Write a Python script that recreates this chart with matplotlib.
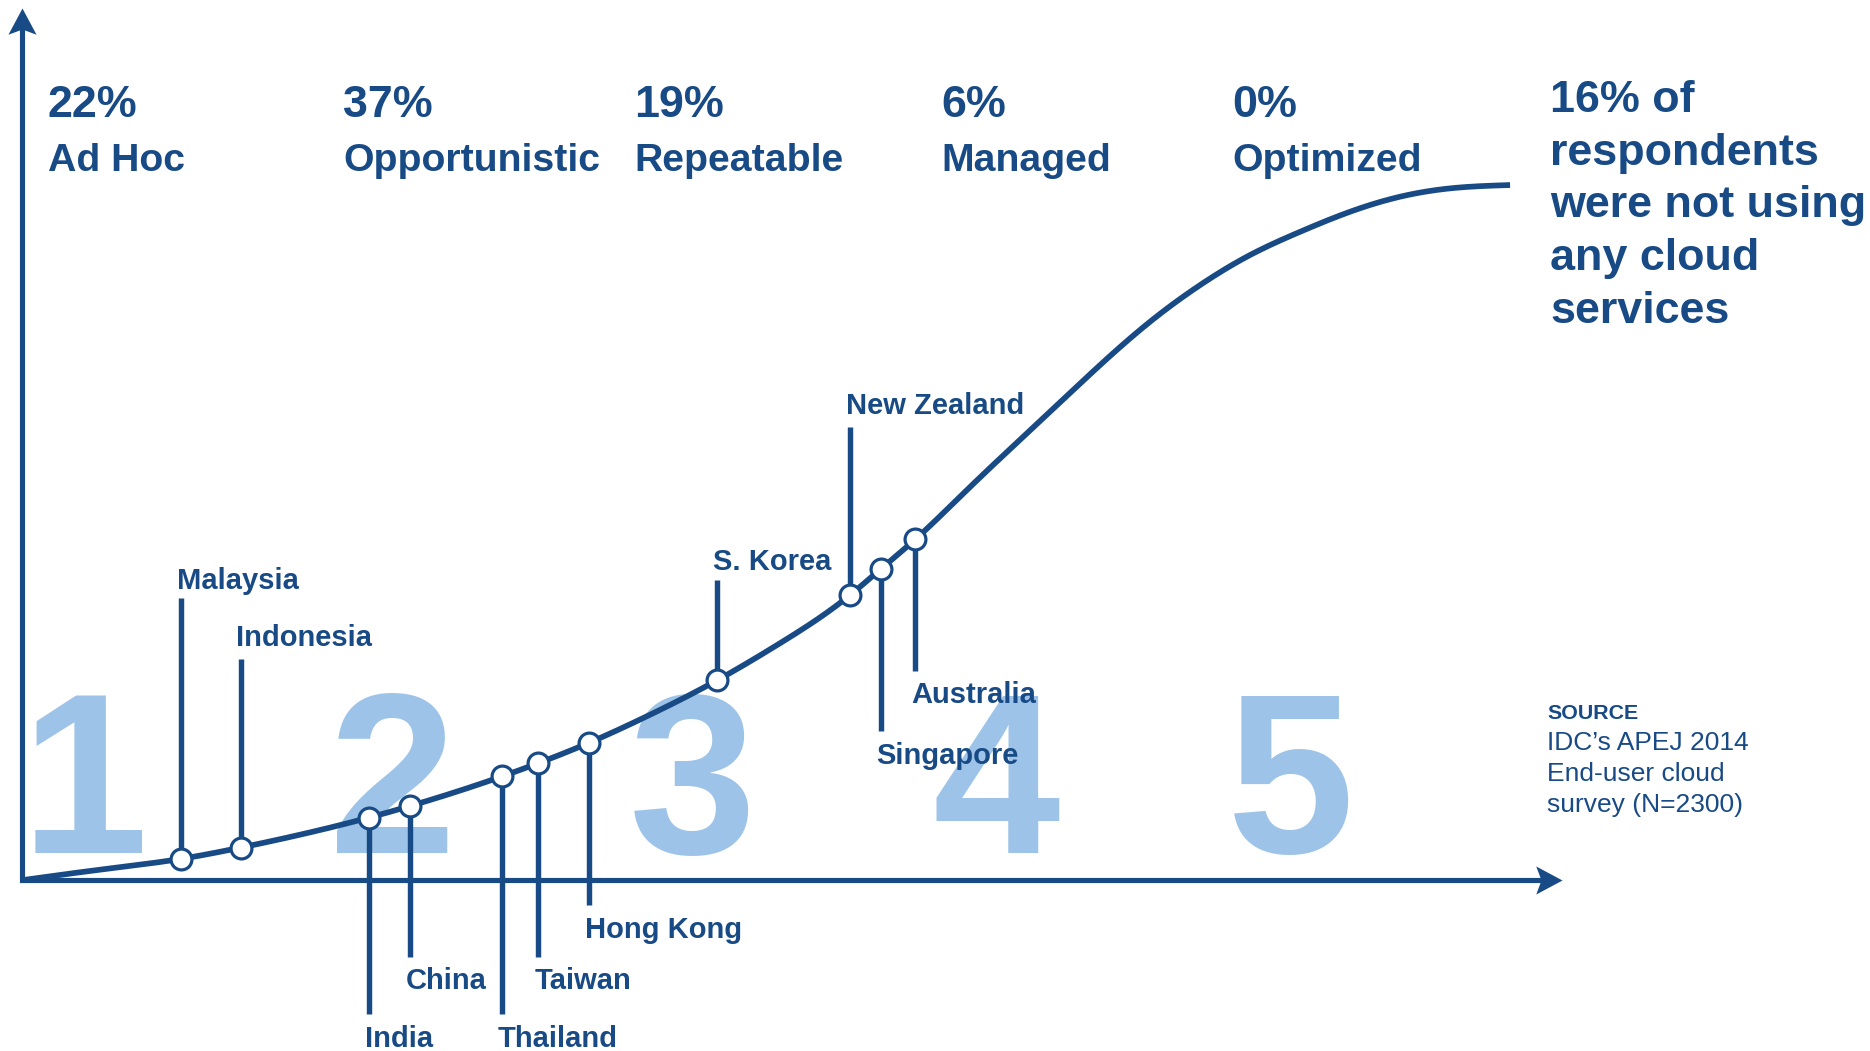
import numpy as np
import matplotlib
matplotlib.use("Agg")
import matplotlib.pyplot as plt
from matplotlib.path import Path

# ---- cloud maturity stages -------------------------------------------------
stage_numbers = ["1", "2", "3", "4", "5"]
stage_shares = ["22%", "37%", "19%", "6%", "0%"]
stage_names = ["Ad Hoc", "Opportunistic", "Repeatable", "Managed", "Optimized"]

# ---- countries on the adoption curve (maturity, adoption) ------------------
countries = ["Malaysia", "Indonesia", "India", "China", "Thailand", "Taiwan",
             "Hong Kong", "S. Korea", "New Zealand", "Singapore", "Australia"]
country_maturity = [133.5, 183.3, 290.7, 325.1, 402.2, 432.9, 475.5,
                    582.9, 694.2, 719.9, 749.1]
country_adoption = [17.9, 27.3, 52.4, 62.1, 86.9, 98.1, 115.2,
                    167.6, 238.9, 260.7, 285.8]

# ---- remaining points of the S-shaped adoption curve -----------------------
curve_maturity = [0.0, 65.4, 522.9, 635.2, 792.1, 861.9, 903.9, 945.8,
                  987.7, 1029.6, 1071.6, 1113.5, 1155.4, 1197.3, 1247.7]
curve_adoption = [0.0, 8.8, 136.9, 198.4, 326.9, 392.6, 431.8, 468.1,
                  498.8, 524.0, 543.5, 560.3, 572.9, 579.9, 582.7]

note_lines = ["16% of", "respondents", "were not using", "any cloud", "services"]
source_title = "SOURCE"
source_lines = ["IDC\u2019s APEJ 2014", "End-user cloud", "survey (N=2300)"]

# ---- styling / layout -------------------------------------------------------
DARK = "#184a85"
LIGHT = "#9dc4e8"
FONT = "Liberation Sans"

# label placement for each country: end of the leader line and text baseline
leader_end = [236.6, 185.3, -112.4, -64.6, -112.4, -64.6, -21.0,
              252.0, 380.0, 124.9, 175.4]
label_base = [244.3, 196.2, -139.8, -91.2, -139.8, -91.2, -48.4,
              260.4, 390.7, 97.5, 148.1]

stage_x = [21.5, 269.5, 513.5, 770.5, 1014.5]
digit_x = [52.0, 311.0, 562.5, 817.0, 1063.5]

X_TIP, Y_TIP = 1291.5, 730.8      # arrow tips of the two axes
HEAD = 22.0                       # arrow head length in axis units


def natural_spline(x, y, xs):
    """Natural cubic spline through (x, y), evaluated at xs."""
    x = np.asarray(x, float)
    y = np.asarray(y, float)
    n = len(x)
    h = np.diff(x)
    A = np.zeros((n, n))
    r = np.zeros(n)
    A[0, 0] = A[-1, -1] = 1.0
    for i in range(1, n - 1):
        A[i, i - 1] = h[i - 1]
        A[i, i] = 2 * (h[i - 1] + h[i])
        A[i, i + 1] = h[i]
        r[i] = 6 * ((y[i + 1] - y[i]) / h[i] - (y[i] - y[i - 1]) / h[i - 1])
    M = np.linalg.solve(A, r)
    idx = np.clip(np.searchsorted(x, xs) - 1, 0, n - 2)
    hh = h[idx]
    a = (x[idx + 1] - xs) / hh
    b = (xs - x[idx]) / hh
    return (a * y[idx] + b * y[idx + 1]
            + ((a**3 - a) * M[idx] + (b**3 - b) * M[idx + 1]) * hh**2 / 6)


def arrow_head(direction):
    """Notched arrow head marker with its tip at the marker origin."""
    w, notch = 0.535, 0.8
    if direction == "right":
        verts = [(0, 0), (-1, w), (-notch, 0), (-1, -w), (0, 0)]
    else:
        verts = [(0, 0), (w, -1), (0, -notch), (-w, -1), (0, 0)]
    codes = [Path.MOVETO] + [Path.LINETO] * 3 + [Path.CLOSEPOLY]
    return Path(verts, codes)


fig = plt.figure(figsize=(18.7, 10.51), dpi=100)
ax = fig.add_axes([0, 0, 1, 1])
ax.set_xlim(-18.5, 1549.5)
ax.set_ylim(-143.2, 737.8)
ax.axis("off")

# big stage numbers in the background
for num, dx in zip(stage_numbers, digit_x):
    ax.text(dx, 22.8, num, color=LIGHT, fontsize=165, fontweight="bold",
            family=FONT, ha="center", va="baseline", zorder=1)

# axes with notched arrow heads
ax.plot([0, 0, X_TIP - 0.7 * HEAD], [Y_TIP - 0.7 * HEAD, 0, 0], color=DARK,
        lw=3.7, solid_joinstyle="miter", solid_capstyle="butt", zorder=3)
ax.plot([X_TIP], [0], marker=arrow_head("right"), ms=37.8, color=DARK,
        mew=0, zorder=3)
ax.plot([0], [Y_TIP], marker=arrow_head("up"), ms=37.8, color=DARK,
        mew=0, zorder=3)

# adoption curve
kx = np.array(curve_maturity + country_maturity)
ky = np.array(curve_adoption + country_adoption)
order = np.argsort(kx)
xs = np.linspace(kx.min(), kx.max(), 1200)
ys = natural_spline(kx[order], ky[order], xs)
ax.plot(xs, ys, color=DARK, lw=4.1, solid_capstyle="butt", zorder=4)

# leader lines, markers and country names
for name, cx, cy, le, lb in zip(countries, country_maturity, country_adoption,
                                leader_end, label_base):
    ax.plot([cx, cx], [cy, le], color=DARK, lw=3.9, solid_capstyle="butt",
            zorder=3)
    ax.text(cx - 3.5, lb, name, color=DARK, fontsize=21, fontweight="bold",
            family=FONT, ha="left", va="baseline", zorder=6)
ax.plot(country_maturity, country_adoption, "o", ms=15.0, mfc="white",
        mec=DARK, mew=2.3, zorder=5)

# stage headings: share of respondents above the stage name
for sx, share, name in zip(stage_x, stage_shares, stage_names):
    ax.text(sx, 639.4, share, color=DARK, fontsize=32.3, fontweight="bold",
            family=FONT, ha="left", va="baseline")
    ax.text(sx, 594.6, name, color=DARK, fontsize=28.3, fontweight="bold",
            family=FONT, ha="left", va="baseline")

# note on the right
for i, line in enumerate(note_lines):
    ax.text(1281.2, 644.1 - 44.2 * i, line, color=DARK, fontsize=32.3,
            fontweight="bold", family=FONT, ha="left", va="baseline")

# source
ax.text(1278.9, 134.9, source_title, color=DARK, fontsize=15.4,
        fontweight="bold", family=FONT, ha="left", va="baseline")
for i, line in enumerate(source_lines):
    ax.text(1278.9, 108.9 - 26.0 * i, line, color=DARK, fontsize=19,
            family=FONT, ha="left", va="baseline")

fig.savefig("out.png", dpi=100, facecolor="white")
